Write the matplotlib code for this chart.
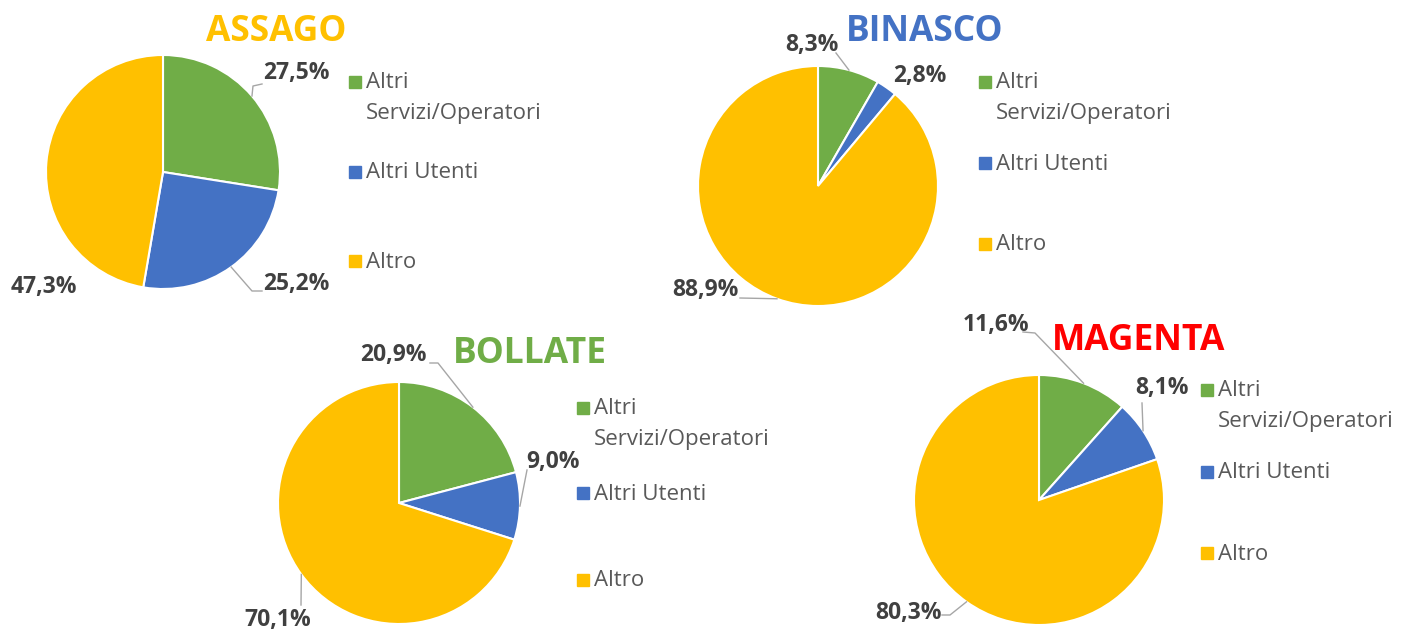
import numpy as np
import matplotlib
matplotlib.use("Agg")
import matplotlib.pyplot as plt

plt.rcParams['font.family'] = ['Open Sans', 'DejaVu Sans']

# data
comuni = ["ASSAGO", "BINASCO", "BOLLATE", "MAGENTA"]
categorie = ["Altri\nServizi/Operatori", "Altri Utenti", "Altro"]
assago = [27.5, 25.2, 47.3]
binasco = [8.3, 2.8, 88.9]
bollate = [20.9, 9.0, 70.1]
magenta = [11.6, 8.1, 80.3]
valori = [assago, binasco, bollate, magenta]

colori = ["#70AD47", "#4472C4", "#FFC000"]
colori_titolo = ["#FFC000", "#4472C4", "#70AD47", "#FF0000"]

W, H = 1401, 633

# layout in pixels (top-left origin): pie center, radius, title, legend x, legend rows
centri = [(163, 172), (818, 186), (399, 503), (1039, 500)]
raggi = [117, 120, 121, 125]
titoli_pos = [(276, 32), (925, 32), (530, 354), (1139, 341)]
legenda_x = [355, 985, 583, 1207]
legenda_y = [(82, 172, 261), (82, 163, 244), (408, 493, 580), (390, 472, 553)]
# label centers and leader anchor (None = no leader)
etichette_pos = [
    [(296, 73), (296, 284), (44, 287)],
    [(812, 45), (920, 76), (705, 290)],
    [(393, 355), (553, 462), (278, 620)],
    [(996, 325), (1162, 388), (908, 613)],
]
leader_anchor = [
    [[(262, 84), (253, 86)], [(262, 291), (252, 291)], None],
    [[(836, 53)], None, [(740, 298)]],
    [[(430, 363), (438, 363)], [(527, 470)], [(301, 605)]],
    [[(1023, 332), (1035, 333)], [(1142, 403)], [(942, 615), (950, 615)]],
]


def py(y):
    return H - y


fig = plt.figure(figsize=(W / 100, H / 100), dpi=100)
ax = fig.add_axes([0, 0, 1, 1])

for i, nome in enumerate(comuni):
    vals = valori[i]
    cx, cy = centri[i]
    r = raggi[i]
    ax.pie(vals, colors=colori, startangle=90, counterclock=False,
           center=(cx, py(cy)), radius=r,
           wedgeprops=dict(edgecolor="white", linewidth=1.5))

    # percent labels with leader lines
    tot = sum(vals)
    start = 90.0
    for j, v in enumerate(vals):
        ang = start - v / tot * 360 / 2
        start -= v / tot * 360
        lx, ly = etichette_pos[i][j]
        ax.text(lx, py(ly), f"{v:.1f}".replace(".", ",") + "%", ha="center", va="center",
                fontsize=16.5, fontweight="bold", color="#404040")
        if leader_anchor[i][j] is not None:
            ex = cx + r * np.cos(np.radians(ang))
            ey = cy - r * np.sin(np.radians(ang))
            pts = leader_anchor[i][j] + [(ex, ey)]
            ax.plot([p[0] for p in pts], [py(p[1]) for p in pts],
                    color="#A6A6A6", linewidth=1)

    tx, ty = titoli_pos[i]
    ax.text(tx, py(ty), nome, ha="center", va="center", fontsize=25.5,
            fontweight="bold", color=colori_titolo[i])

    # legend
    for j, cat in enumerate(categorie):
        yy = legenda_y[i][j]
        ax.plot(legenda_x[i], py(yy), marker="s", markersize=8.5,
                color=colori[j], linestyle="None")
        righe = cat.split("\n")
        for k, riga in enumerate(righe):
            ax.text(legenda_x[i] + 11, py(yy + 1 + k * 31), riga, ha="left",
                    va="center", fontsize=16, color="#595959")

ax.set_xlim(0, W)
ax.set_ylim(0, H)
ax.set_aspect("equal")
ax.axis("off")

fig.savefig("out.png", dpi=100, facecolor="white")
